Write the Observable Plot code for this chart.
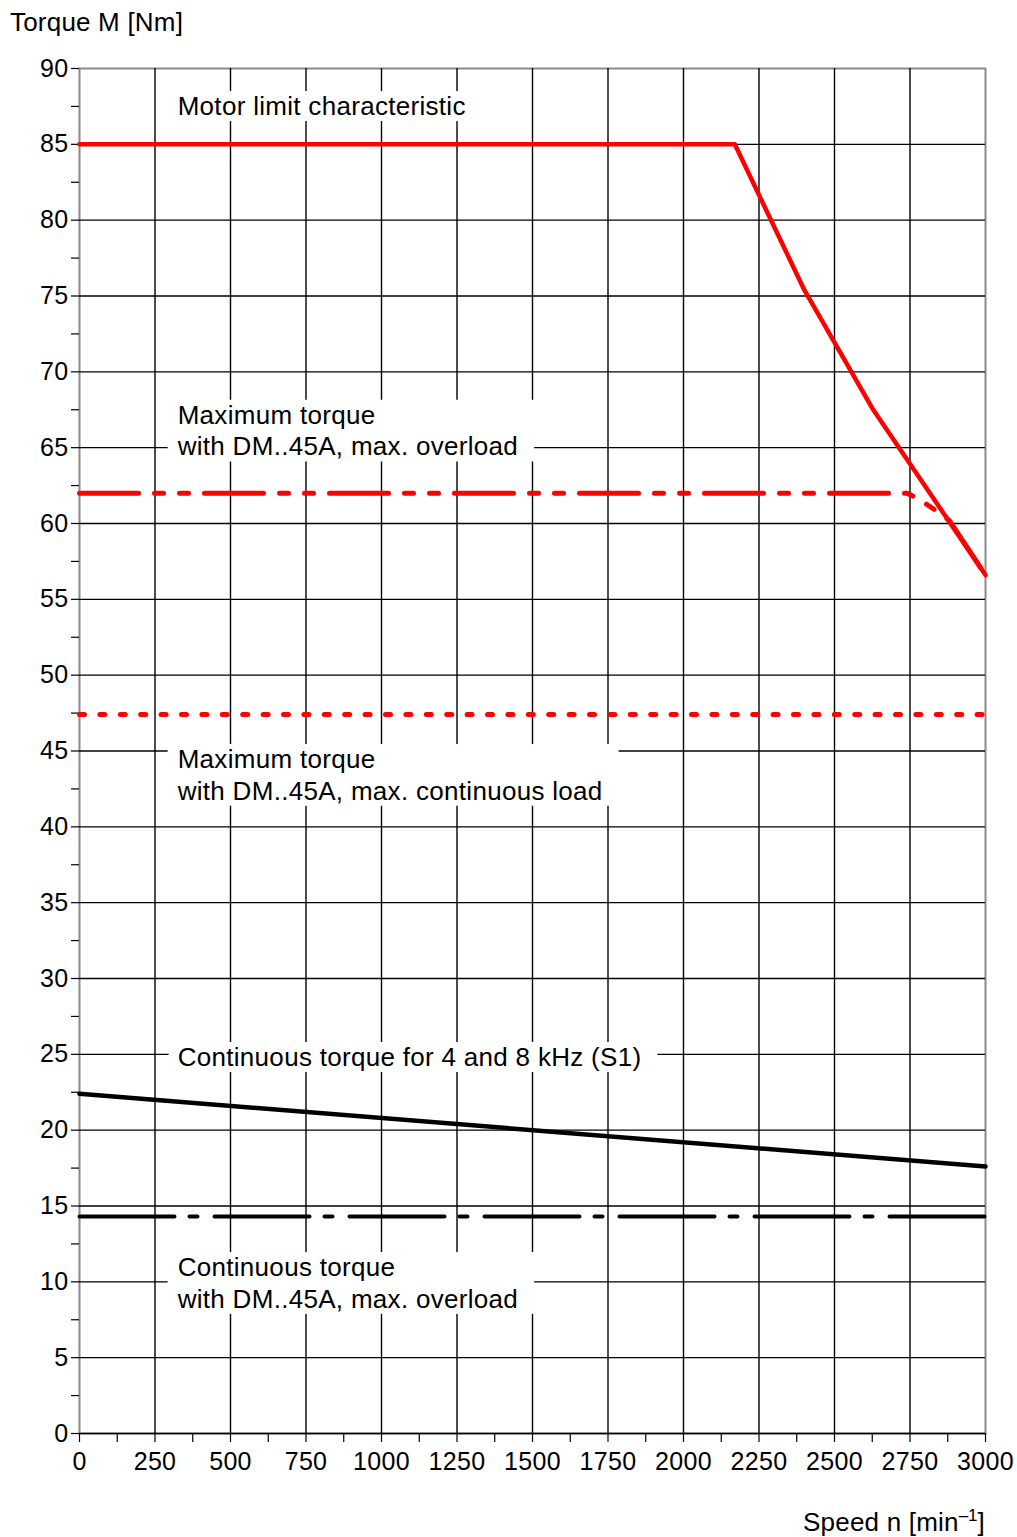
<!DOCTYPE html>
<html>
<head>
<meta charset="utf-8">
<script src="https://cdn.jsdelivr.net/npm/d3@7"></script>
<script src="https://cdn.jsdelivr.net/npm/@observablehq/plot@0.6"></script>
<style>
  html, body { margin: 0; padding: 0; background: #fff; }
  body { width: 1017px; height: 1537px; overflow: hidden; font-family: "Liberation Sans", Arial, Helvetica, sans-serif; color: #000; }
  #ytitle { font-size: 26px; letter-spacing: 0.2px; height: 44px; line-height: 44px; padding-left: 10px; }
  #xtitle { font-size: 26px; letter-spacing: 0.2px; text-align: right; padding-right: 32px; padding-top: 27px; line-height: 28px; }
  #xtitle sup { font-size: 17px; line-height: 0; letter-spacing: 0; }
</style>
</head>
<body>
<div id="ytitle">Torque M [Nm]</div>
<div id="chart"></div>
<div id="xtitle">Speed n [min<sup>–1</sup>]</div>
<script>
// ---- Data ----
const speedLimit  = [0, 2170, 2400, 2625, 3000];
const torqueLimit = [85, 85, 75.4, 67.6, 56.6];

const speedOverload  = [0, 2740, 2780, 2840, 2880, 3000];
const torqueOverload = [62, 62, 61.6, 60.8, 60.2, 56.6];

const speedContLoad  = [0, 3000];
const torqueContLoad = [47.4, 47.4];

const speedS1  = [0, 3000];
const torqueS1 = [22.4, 17.6];

const speedContOverload  = [0, 3000];
const torqueContOverload = [14.3, 14.3];

const xTicks = d3.range(0, 3001, 125);
const yTicks = d3.range(0, 90.01, 2.5);
const xGridValues = d3.range(250, 2751, 250);
const yGridValues = d3.range(0, 85.01, 5);

const labelText = [
  "Motor limit characteristic",
  "Maximum torque\nwith DM..45A, max. overload",
  "Maximum torque\nwith DM..45A, max. continuous load",
  "Continuous torque for 4 and 8 kHz (S1)",
  "Continuous torque\nwith DM..45A, max. overload"
];
const labelSpeed  = [325, 325, 325, 325, 325];
const labelTorque = [87.6, 66.2, 43.5, 24.9, 10.0];

// ---- Tables built from the arrays ----
const toRows = (xs, ys) => xs.map((s, i) => ({speed: s, torque: ys[i]}));
const limit = toRows(speedLimit, torqueLimit);
const overload = toRows(speedOverload, torqueOverload);
const contLoad = toRows(speedContLoad, torqueContLoad);
const s1 = toRows(speedS1, torqueS1);
const contOverload = toRows(speedContOverload, torqueContOverload);
const labels = labelText.map((t, i) => ({text: t, speed: labelSpeed[i], torque: labelTorque[i]}));

const RED = "#ff0000";

const chart = Plot.plot({
  width: 1017,
  height: 1437,
  marginTop: 24,
  marginLeft: 79,
  marginRight: 32,
  marginBottom: 48,
  style: "font-family: 'Liberation Sans', Arial, Helvetica, sans-serif; font-size: 25px; letter-spacing: 0.3px; background: white; color: black; overflow: visible;",
  x: {domain: [0, 3000]},
  y: {domain: [0, 90]},
  marks: [
    Plot.frame({stroke: "#8a8a8a", strokeWidth: 2}),
    Plot.gridX(xGridValues, {stroke: "black", strokeOpacity: 1, strokeWidth: 1.4}),
    Plot.gridY(yGridValues, {stroke: "black", strokeOpacity: 1, strokeWidth: 1.4}),
    Plot.axisX(xTicks, {tickSize: 9, tickPadding: 10, tickFormat: d => d % 250 === 0 ? String(d) : "", label: null, fontSize: 25, strokeWidth: 1.2}),
    Plot.axisY(yTicks, {tickSize: 8, tickPadding: 3, tickFormat: d => d % 5 === 0 ? String(d) : "", label: null, fontSize: 25, strokeWidth: 1.2}),
    Plot.line(contOverload, {x: "speed", y: "torque", stroke: "black", strokeWidth: 4, strokeLinecap: "round", strokeDasharray: "95,15,8,17"}),
    Plot.line(s1, {x: "speed", y: "torque", stroke: "black", strokeWidth: 4.5}),
    Plot.line(contLoad, {x: "speed", y: "torque", stroke: RED, strokeWidth: 5, strokeLinecap: "round", strokeDasharray: "5,15.4"}),
    Plot.line(overload, {x: "speed", y: "torque", stroke: RED, strokeWidth: 5, strokeLinecap: "round", strokeLinejoin: "round", strokeDasharray: "59,16,9,16,9,16"}),
    Plot.line(limit, {x: "speed", y: "torque", stroke: RED, strokeWidth: 4.5, strokeLinejoin: "round"}),
    Plot.text(labels, {x: "speed", y: "torque", text: "text", textAnchor: "start", lineAnchor: "middle", lineHeight: 1.22, fontSize: 26, fill: "black"})
  ]
});

document.getElementById("chart").appendChild(chart);

// White boxes behind annotation texts (sized from the rendered text)
const svg = chart.tagName.toLowerCase() === "svg" ? chart : chart.querySelector("svg");
d3.select(svg).selectAll('g[aria-label="text"] text').each(function() {
  const b = this.getBBox();
  const padL = 9, padR = 16, padV = 0;
  const rect = document.createElementNS("http://www.w3.org/2000/svg", "rect");
  rect.setAttribute("x", b.x - padL);
  rect.setAttribute("y", b.y - padV);
  rect.setAttribute("width", b.width + padL + padR);
  rect.setAttribute("height", b.height + 2 * padV);
  rect.setAttribute("fill", "white");
  const tr = this.getAttribute("transform");
  if (tr) rect.setAttribute("transform", tr);
  this.parentNode.insertBefore(rect, this);
});
</script>
</body>
</html>
